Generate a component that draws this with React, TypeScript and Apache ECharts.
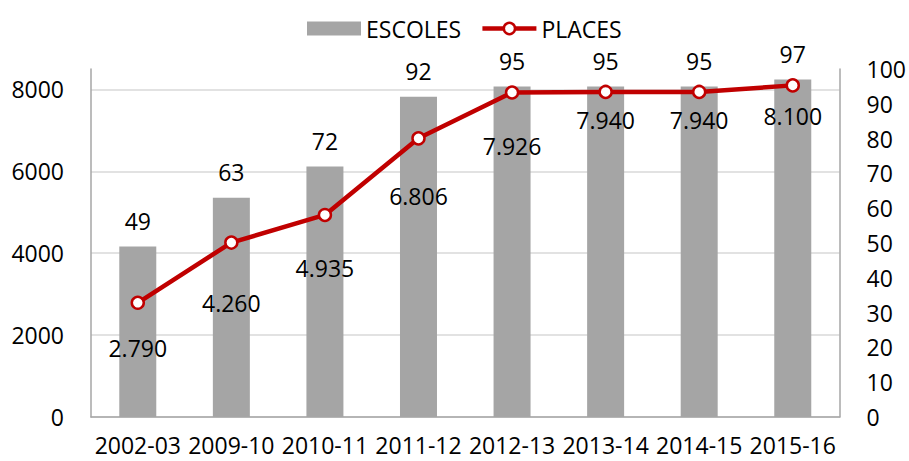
import React, { useEffect, useRef } from "react";
import * as echarts from "echarts";

const categories = ["2002-03", "2009-10", "2010-11", "2011-12", "2012-13", "2013-14", "2014-15", "2015-16"];
const escoles = [49, 63, 72, 92, 95, 95, 95, 97];
const places = [2790, 4260, 4935, 6806, 7926, 7940, 7940, 8100];
const leftTicks = [0, 2000, 4000, 6000, 8000];
const rightTicks = [0, 10, 20, 30, 40, 50, 60, 70, 80, 90, 100];

// style: per-point label gaps below the PLACES markers (as placed in the reference)
const placesLabelGap = [26, 42, 34, 39, 35, 9, 9, 12];

const FONT = "Open Sans";
const fmtThousands = (v: number) =>
  v >= 1000 ? `${Math.floor(v / 1000)}.${String(v % 1000).padStart(3, "0")}` : String(v);

export default function App() {
  const ref = useRef<HTMLDivElement>(null);
  useEffect(() => {
    if (!ref.current) return;
    const chart = echarts.init(ref.current, undefined, { renderer: "svg" });
    chart.setOption({
      animation: false,
      textStyle: { fontFamily: FONT },
      legend: {
        left: 302,
        top: 12,
        itemWidth: 54,
        itemHeight: 14,
        itemGap: 19,
        textStyle: { fontFamily: FONT, fontSize: 23, color: "#000", padding: [0, 0, 0, 0] },
        data: [
          { name: "ESCOLES", icon: "rect" },
          {
            name: "PLACES",
            lineStyle: { width: 4.5, color: "#C00000" },
            itemStyle: { color: "#FFFFFF", borderColor: "#C00000", borderWidth: 2.5 },
          },
        ],
      },
      grid: { left: 91, right: 68, top: 69, bottom: 44 },
      xAxis: {
        type: "category",
        data: categories,
        axisTick: { show: false },
        axisLine: { lineStyle: { color: "#A6A6A6", width: 1.5 } },
        axisLabel: {
          color: "#000",
          fontSize: 23,
          lineHeight: 23,
          fontFamily: FONT,
          margin: 16,
          interval: 0,
        },
      },
      yAxis: [
        {
          type: "value",
          min: 0,
          max: 8500,
          interval: 2000,
          position: "left",
          axisLine: { show: true, lineStyle: { color: "#A6A6A6", width: 1.5 } },
          axisTick: { show: false },
          axisLabel: {
            color: "#000",
            fontSize: 23,
            fontFamily: FONT,
            margin: 27,
            showMaxLabel: false,
            formatter: (v: number) => (leftTicks.includes(v) ? String(v) : ""),
          },
          splitLine: { show: true, showMaxLine: false, lineStyle: { color: "#D9D9D9", width: 1.5 } },
        },
        {
          type: "value",
          min: 0,
          max: 100,
          interval: 10,
          position: "right",
          axisLine: { show: true, lineStyle: { color: "#A6A6A6", width: 1.5 } },
          axisTick: { show: false },
          axisLabel: {
            color: "#000",
            fontSize: 23,
            fontFamily: FONT,
            margin: 27,
            formatter: (v: number) => (rightTicks.includes(v) ? String(v) : ""),
          },
          splitLine: { show: false },
        },
      ],
      series: [
        {
          name: "ESCOLES",
          type: "bar",
          yAxisIndex: 1,
          data: escoles,
          barWidth: 37,
          itemStyle: { color: "#A5A5A5" },
          label: {
            show: true,
            position: "top",
            distance: 14,
            color: "#000",
            fontSize: 23,
            fontFamily: FONT,
          },
        },
        {
          name: "PLACES",
          type: "line",
          yAxisIndex: 0,
          data: places.map((v, i) => ({
            value: v,
            label: { distance: placesLabelGap[i] },
          })),
          symbol: "circle",
          symbolSize: 12,
          lineStyle: { color: "#C00000", width: 4.5 },
          itemStyle: { color: "#FFFFFF", borderColor: "#C00000", borderWidth: 2.5 },
          label: {
            show: true,
            position: "bottom",
            color: "#000",
            fontSize: 23,
            fontFamily: FONT,
            formatter: (p: any) => fmtThousands(p.value),
          },
          z: 5,
        },
      ],
    });
    return () => chart.dispose();
  }, []);
  return <div ref={ref} style={{ width: 909, height: 461, position: "absolute", left: 0, top: 0 }} />;
}
